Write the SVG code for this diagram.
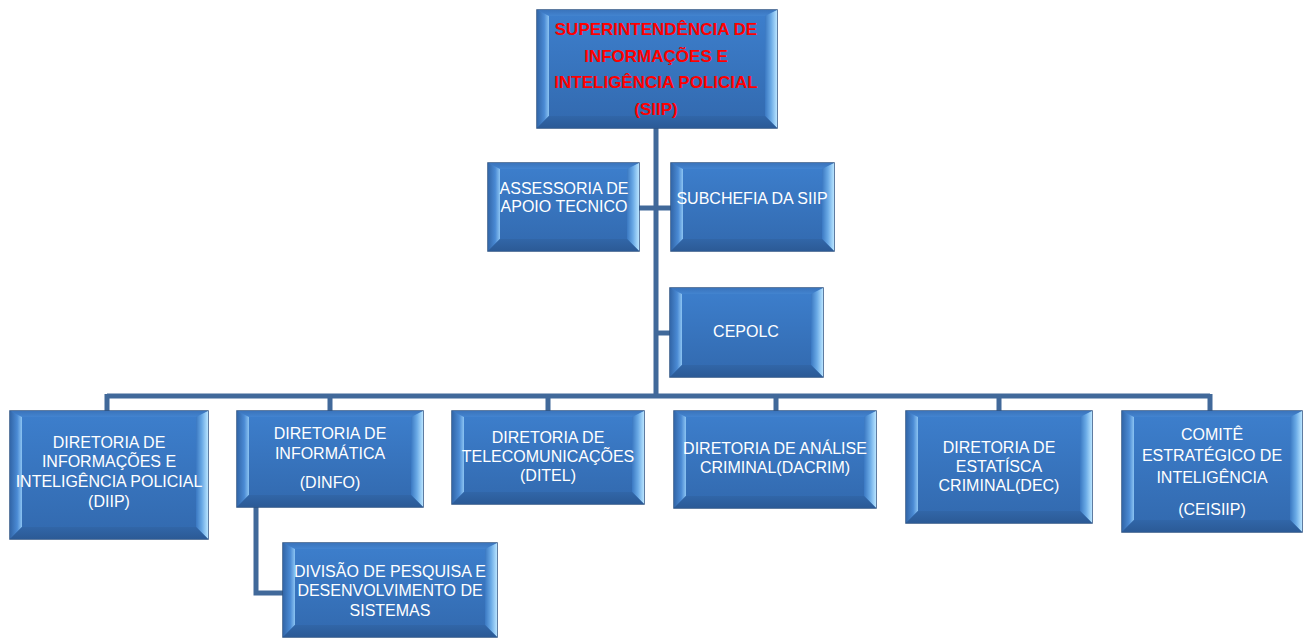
<svg xmlns="http://www.w3.org/2000/svg" width="1311" height="638" viewBox="0 0 1311 638">
<defs>
<linearGradient id="gMain" x1="0" y1="0" x2="0" y2="1">
<stop offset="0" stop-color="#3d7fcd"/><stop offset="1" stop-color="#3269ae"/>
</linearGradient>
<linearGradient id="gLeft" x1="0" y1="0" x2="1" y2="0">
<stop offset="0" stop-color="#3266a8"/><stop offset="0.6" stop-color="#4a8ad4"/><stop offset="1" stop-color="#8cc4f2"/>
</linearGradient>
<linearGradient id="gRight" x1="0" y1="0" x2="1" y2="0">
<stop offset="0" stop-color="#3a78c2"/><stop offset="0.5" stop-color="#6aaae6"/><stop offset="1" stop-color="#b8e4ff"/>
</linearGradient>
<linearGradient id="gTop" x1="0" y1="0" x2="0" y2="1">
<stop offset="0" stop-color="#3a74bc"/><stop offset="1" stop-color="#4384d0"/>
</linearGradient>
<linearGradient id="gBot" x1="0" y1="0" x2="0" y2="1">
<stop offset="0" stop-color="#3166a8"/><stop offset="1" stop-color="#2b5a96"/>
</linearGradient>
</defs>
<style>
.main{fill:url(#gMain);stroke:#2b5182;stroke-width:1.5}
.bt{fill:url(#gTop)}
.bl{fill:url(#gLeft)}
.br{fill:url(#gRight)}
.bb{fill:url(#gBot)}
.t{font-family:"Liberation Sans",Arial,sans-serif;font-size:16px;fill:#ffffff;text-anchor:middle}
.tr{font-family:"Liberation Sans",Arial,sans-serif;font-size:17px;font-weight:bold;fill:#ff0000;text-anchor:middle}
.c{fill:none;stroke:#41699a;stroke-width:5}
</style>
<g id="connectors">
<path class="c" d="M656 128V396"/>
<path class="c" d="M639 208H671"/>
<path class="c" d="M656 333H670"/>
<path class="c" d="M107 396H1210"/>
<path class="c" d="M107 394V411M330 394V411M548 394V411M776 394V411M999 394V411M1210 394V411"/>
<path class="c" d="M256 507V593H283"/>
</g>
<g id="siip">
<rect class="main" x="537" y="10" width="240" height="118"/>
<polygon class="bt" points="537,10 777,10 765,16 549,16"/>
<polygon class="bl" points="537,10 549,16 549,116 537,128"/>
<polygon class="br" points="777,10 777,128 765,116 765,16"/>
<polygon class="bb" points="537,128 549,116 765,116 777,128"/>
<text class="tr" x="656" y="35">SUPERINTENDÊNCIA DE</text>
<text class="tr" x="656" y="62">INFORMAÇÕES E</text>
<text class="tr" x="656" y="88">INTELIGÊNCIA POLICIAL</text>
<text class="tr" x="656" y="115">(SIIP)</text>
</g>
<g id="assessoria">
<rect class="main" x="488" y="163" width="151" height="88"/>
<polygon class="bt" points="488,163 639,163 627,169 500,169"/>
<polygon class="bl" points="488,163 500,169 500,239 488,251"/>
<polygon class="br" points="639,163 639,251 627,239 627,169"/>
<polygon class="bb" points="488,251 500,239 627,239 639,251"/>
<text class="t" x="564" y="194">ASSESSORIA DE</text>
<text class="t" x="564" y="212">APOIO TECNICO</text>
</g>
<g id="subchefia">
<rect class="main" x="671" y="163" width="163" height="88"/>
<polygon class="bt" points="671,163 834,163 822,169 683,169"/>
<polygon class="bl" points="671,163 683,169 683,239 671,251"/>
<polygon class="br" points="834,163 834,251 822,239 822,169"/>
<polygon class="bb" points="671,251 683,239 822,239 834,251"/>
<text class="t" x="752" y="204">SUBCHEFIA DA SIIP</text>
</g>
<g id="cepolc">
<rect class="main" x="670" y="288" width="153" height="89"/>
<polygon class="bt" points="670,288 823,288 811,294 682,294"/>
<polygon class="bl" points="670,288 682,294 682,365 670,377"/>
<polygon class="br" points="823,288 823,377 811,365 811,294"/>
<polygon class="bb" points="670,377 682,365 811,365 823,377"/>
<text class="t" x="746" y="337">CEPOLC</text>
</g>
<g id="diip">
<rect class="main" x="10" y="411" width="198" height="128"/>
<polygon class="bt" points="10,411 208,411 196,417 22,417"/>
<polygon class="bl" points="10,411 22,417 22,527 10,539"/>
<polygon class="br" points="208,411 208,539 196,527 196,417"/>
<polygon class="bb" points="10,539 22,527 196,527 208,539"/>
<text class="t" x="109" y="448">DIRETORIA DE</text>
<text class="t" x="109" y="467">INFORMAÇÕES E</text>
<text class="t" x="109" y="487">INTELIGÊNCIA POLICIAL</text>
<text class="t" x="109" y="507">(DIIP)</text>
</g>
<g id="dinfo">
<rect class="main" x="237" y="411" width="186" height="96"/>
<polygon class="bt" points="237,411 423,411 411,417 249,417"/>
<polygon class="bl" points="237,411 249,417 249,495 237,507"/>
<polygon class="br" points="423,411 423,507 411,495 411,417"/>
<polygon class="bb" points="237,507 249,495 411,495 423,507"/>
<text class="t" x="330" y="439">DIRETORIA DE</text>
<text class="t" x="330" y="459">INFORMÁTICA</text>
<text class="t" x="330" y="488">(DINFO)</text>
</g>
<g id="ditel">
<rect class="main" x="452" y="411" width="192" height="93"/>
<polygon class="bt" points="452,411 644,411 632,417 464,417"/>
<polygon class="bl" points="452,411 464,417 464,492 452,504"/>
<polygon class="br" points="644,411 644,504 632,492 632,417"/>
<polygon class="bb" points="452,504 464,492 632,492 644,504"/>
<text class="t" x="548" y="443">DIRETORIA DE</text>
<text class="t" x="548" y="462">TELECOMUNICAÇÕES</text>
<text class="t" x="548" y="481">(DITEL)</text>
</g>
<g id="dacrim">
<rect class="main" x="674" y="411" width="202" height="97"/>
<polygon class="bt" points="674,411 876,411 864,417 686,417"/>
<polygon class="bl" points="674,411 686,417 686,496 674,508"/>
<polygon class="br" points="876,411 876,508 864,496 864,417"/>
<polygon class="bb" points="674,508 686,496 864,496 876,508"/>
<text class="t" x="775" y="454">DIRETORIA DE ANÁLISE</text>
<text class="t" x="775" y="473">CRIMINAL(DACRIM)</text>
</g>
<g id="dec">
<rect class="main" x="906" y="411" width="186" height="112"/>
<polygon class="bt" points="906,411 1092,411 1080,417 918,417"/>
<polygon class="bl" points="906,411 918,417 918,511 906,523"/>
<polygon class="br" points="1092,411 1092,523 1080,511 1080,417"/>
<polygon class="bb" points="906,523 918,511 1080,511 1092,523"/>
<text class="t" x="999" y="453">DIRETORIA DE</text>
<text class="t" x="999" y="472">ESTATÍSCA</text>
<text class="t" x="999" y="491">CRIMINAL(DEC)</text>
</g>
<g id="ceisiip">
<rect class="main" x="1122" y="411" width="180" height="121"/>
<polygon class="bt" points="1122,411 1302,411 1290,417 1134,417"/>
<polygon class="bl" points="1122,411 1134,417 1134,520 1122,532"/>
<polygon class="br" points="1302,411 1302,532 1290,520 1290,417"/>
<polygon class="bb" points="1122,532 1134,520 1290,520 1302,532"/>
<text class="t" x="1212" y="440">COMITÊ</text>
<text class="t" x="1212" y="461">ESTRATÉGICO DE</text>
<text class="t" x="1212" y="483">INTELIGÊNCIA</text>
<text class="t" x="1212" y="515">(CEISIIP)</text>
</g>
<g id="divisao">
<rect class="main" x="283" y="543" width="214" height="94"/>
<polygon class="bt" points="283,543 497,543 485,549 295,549"/>
<polygon class="bl" points="283,543 295,549 295,625 283,637"/>
<polygon class="br" points="497,543 497,637 485,625 485,549"/>
<polygon class="bb" points="283,637 295,625 485,625 497,637"/>
<text class="t" x="390" y="577">DIVISÃO DE PESQUISA E</text>
<text class="t" x="390" y="596">DESENVOLVIMENTO DE</text>
<text class="t" x="390" y="616">SISTEMAS</text>
</g>
</svg>
